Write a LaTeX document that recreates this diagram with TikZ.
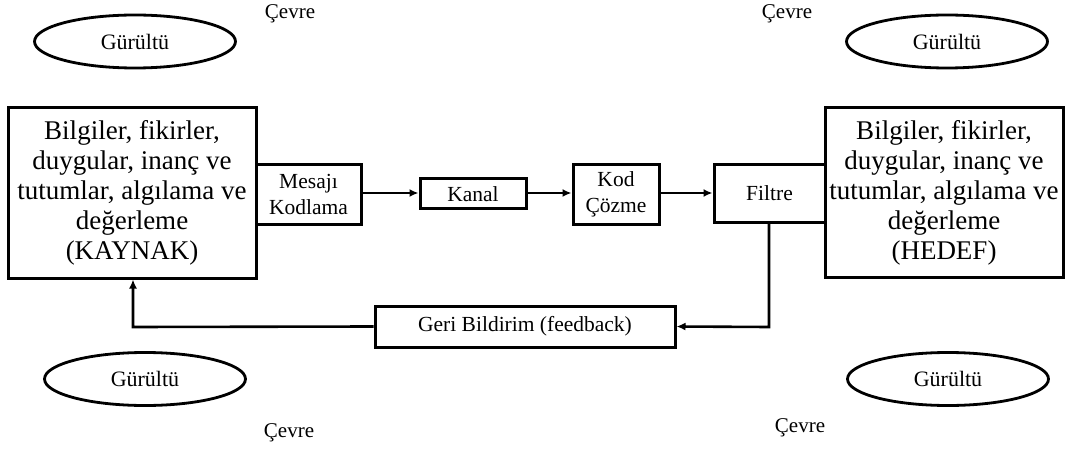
\documentclass[tikz,border=0pt]{standalone}
\usepackage{fontspec}
\setmainfont{Liberation Serif}
\usetikzlibrary{shapes.geometric,arrows.meta}
\begin{document}
\begin{tikzpicture}[x=1pt,y=-1pt,
  bigbox/.style={draw,line width=3pt,rectangle,inner sep=0pt,align=center,
    font=\fontsize{27}{30}\selectfont},
  smallbox/.style={draw,line width=3pt,rectangle,inner sep=0pt,align=center,
    font=\fontsize{21.5}{26}\selectfont},
  noise/.style={draw,line width=2.8pt,ellipse,inner sep=0pt,minimum width=201pt,
    minimum height=53pt,font=\fontsize{22}{26}\selectfont},
  envlabel/.style={inner sep=0pt,font=\fontsize{21}{25}\selectfont},
  conn/.style={line width=2.6pt,-{Latex[length=9pt,width=8pt]}},
  plain/.style={line width=2.6pt}]
\useasboundingbox (0,0) rectangle (1065,449);
% main boxes
\node[bigbox,minimum width=248pt,minimum height=170pt] (src) at (132,193)
  {Bilgiler, fikirler,\\duygular, inanç ve\\tutumlar, algılama ve\\değerleme\\(KAYNAK)};
\node[bigbox,minimum width=238pt,minimum height=169pt] (dst) at (944,192.5)
  {Bilgiler, fikirler,\\duygular, inanç ve\\tutumlar, algılama ve\\değerleme\\(HEDEF)};
\node[smallbox,minimum width=105pt,minimum height=59pt] (enc) at (308.5,194.5) {Mesajı\\Kodlama};
\node[smallbox,minimum width=106pt,minimum height=30pt] (chan) at (473,194) {Kanal};
\node[smallbox,minimum width=86pt,minimum height=59pt] (dec) at (616,194.5) {Kod\\Çözme};
\node[smallbox,minimum width=111pt,minimum height=57pt] (filt) at (769.5,193.5) {Filtre};
\node[smallbox,minimum width=300pt,minimum height=41pt] (fb) at (525,326.5) {Geri Bildirim (feedback)};
% noise ellipses
\node[noise] (n1) at (135,41.5) {Gürültü};
\node[noise] (n2) at (947,41.5) {Gürültü};
\node[noise] (n3) at (145,379) {Gürültü};
\node[noise] (n4) at (948,379) {Gürültü};
% environment labels
\node[envlabel] (e1) at (290,14) {Çevre};
\node[envlabel] (e2) at (787,14) {Çevre};
\node[envlabel] (e3) at (289,433) {Çevre};
\node[envlabel] (e4) at (800,428) {Çevre};
% connectors
\draw[conn] (enc.east |- 0,193) -- (chan.west |- 0,193);
\draw[conn] (chan.east |- 0,193) -- (dec.west |- 0,193);
\draw[conn] (dec.east |- 0,193) -- (filt.west |- 0,193);
\coordinate (fbr) at (769,327);
\coordinate (fbl) at (133,327);
\draw[conn] (filt.south -| fbr) -- (fbr) -- (fb.east);
\draw[conn] (fb.west) -- (fbl) -- (src.south -| fbl);
\end{tikzpicture}
\end{document}
